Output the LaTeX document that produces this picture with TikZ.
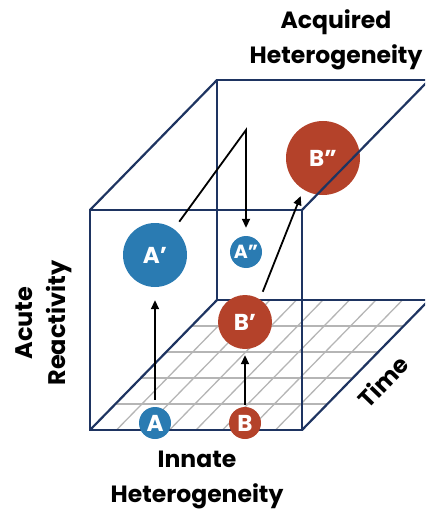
\documentclass[tikz,border=0pt]{standalone}
\usepackage{fontspec}
\setmainfont{Poppins}
\usepackage{xcolor}
\definecolor{cNavy}{HTML}{1E3461}
\definecolor{cBlue}{HTML}{2A7BB2}
\definecolor{cRed}{HTML}{B4422A}
\definecolor{cGrid}{HTML}{B5B5B5}
\usetikzlibrary{arrows.meta,calc}
\tikzset{
  box-edge/.style={draw=cNavy,line width=2.2pt,line cap=round},
  grid-line/.style={draw=cGrid,line width=1.3pt},
  cell/.style={circle,inner sep=0pt,text=white,font=\bfseries\fontsize{23}{23}\selectfont},
  cell-a/.style={cell,fill=cBlue},
  cell-b/.style={cell,fill=cRed},
  arrow/.style={-{Triangle[length=9pt,width=8pt]},line width=1.8pt,draw=black},
  axis-label/.style={align=center,font=\bfseries\fontsize{23.5}{35}\selectfont},
}

\begin{document}
\begin{tikzpicture}[x=1pt,y=-1pt]
  \path[use as bounding box] (0,0) rectangle (425,513);
  \clip (0,0) rectangle (425,513);
  % floor grid
  \foreach \k in {1,...,4}
    \draw[grid-line] ($(90,430)+\k*(25.4,-26)$) -- ($(302,430)+\k*(25.4,-26)$);
  \foreach \i in {1,...,7}
    \draw[grid-line] ($(90,430)+\i*(26.5,0)$) -- ($(217,300)+\i*(26.5,0)$);
  % cube
  \draw[box-edge] (90,210) rectangle (302,430);
  \draw[box-edge] (429,80) -- (217,80) -- (217,300) -- (429,300);
  \draw[box-edge] (90,210) -- (217,80);
  \draw[box-edge] (90,430) -- (217,300);
  \draw[box-edge] (302,430) -- (429,300);
  % cells
  \node[cell-a,minimum size=32pt] (a) at (155,423) {A};
  \node[cell-b,minimum size=32pt] (b) at (245,423) {B};
  \node[cell-a,minimum size=64pt] (a1) at (155,255) {A’};
  \node[cell-a,minimum size=32pt,font=\bfseries\fontsize{19}{19}\selectfont] (a2) at (246,252) {A”};
  \node[cell-b,minimum size=54pt] (b1) at (245,322) {B’};
  \node[cell-b,minimum size=74pt] (b2) at (323,158) {B”};
  \draw[box-edge] (302,210) -- (429,80);
  % transitions
  \coordinate (turn) at (246,130);
  \draw[arrow,shorten <=7pt,shorten >=13pt] (a) -- (a1);
  \draw[arrow,shorten <=2pt,shorten >=6pt] (b) -- (b1);
  \draw[arrow,shorten <=9pt,shorten >=8pt] (a1) -- (turn) -- (a2);
  \draw[arrow,shorten <=8pt,shorten >=7pt] (b1.57) -- (b2.238);
  % labels
  \node[axis-label] (acq) at (336,40) {Acquired\\Heterogeneity};
  \node[axis-label] (inn) at (197,480) {Innate\\Heterogeneity};
  \node[axis-label,rotate=90,font=\bfseries\fontsize{24}{33}\selectfont] (react) at (44,323) {Acute\\Reactivity};
  \node[axis-label,rotate=46] (time) at (383,381) {Time};
\end{tikzpicture}
\end{document}
